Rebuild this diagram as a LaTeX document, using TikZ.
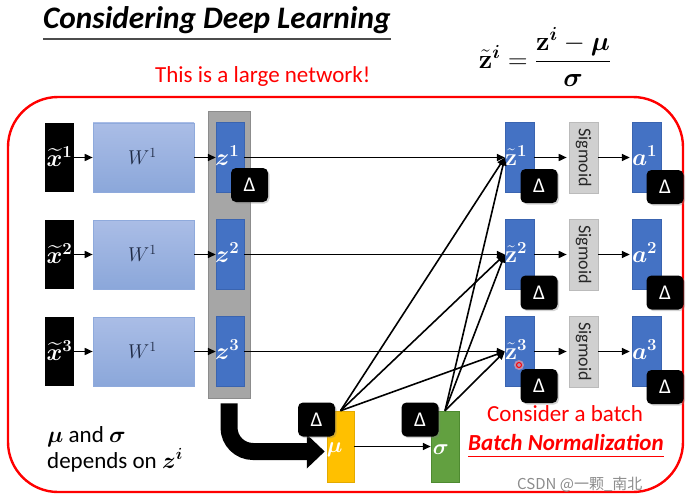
\RequirePackage{fix-cm}
\documentclass[tikz,border=0pt]{standalone}
\usepackage{amsmath,bm}
\usepackage[no-math]{fontspec}
\setmainfont{Carlito}
\newfontfamily\cjk{Noto Sans CJK SC}
\usetikzlibrary{arrows.meta,shadows,calc}
\definecolor{boxblue}{HTML}{4472C4}
\definecolor{boxblueB}{HTML}{3A64B0}
\definecolor{wtop}{HTML}{AABDE6}
\definecolor{wbot}{HTML}{8BA7DA}
\definecolor{wbord}{HTML}{8FAADC}
\definecolor{wtext}{HTML}{1F2A44}
\definecolor{colgray}{HTML}{A6A6A6}
\definecolor{colgrayB}{HTML}{8C8C8C}
\definecolor{siggray}{HTML}{D0D0D0}
\definecolor{siggrayB}{HTML}{BBBBBB}
\definecolor{mugold}{HTML}{FFC000}
\definecolor{mugoldB}{HTML}{E3AA00}
\definecolor{siggreen}{HTML}{62A040}
\definecolor{siggreenB}{HTML}{4E8A30}
\definecolor{slidered}{HTML}{FF0000}
\begin{document}
\begin{tikzpicture}[x=1pt,y=-1pt,
  inbox/.style={fill=black, minimum width=29, minimum height=69, inner sep=0},
  wbox/.style={top color=wtop, bottom color=wbot, draw=wbord, line width=0.6pt, minimum width=101, minimum height=69, inner sep=0},
  bluebox/.style={fill=boxblue, draw=boxblueB, line width=0.4pt, minimum width=28, minimum height=70, inner sep=0},
  sigbox/.style={fill=siggray, draw=siggrayB, line width=0.6pt, minimum width=29, minimum height=71, inner sep=0},
  deltabox/.style={fill=black, rounded corners=5pt, minimum width=37, minimum height=34, inner sep=0,
     text=white, font=\fontsize{21}{21}\selectfont,
     drop shadow={shadow xshift=1.5pt, shadow yshift=-1.5pt, opacity=0.35}},
  wlab/.style={inner sep=0, text=white, font=\fontsize{24}{26}\selectfont},
  conn/.style={line width=1.6pt, -{Triangle[length=8pt,width=7pt]}},
  redtext/.style={text=slidered, inner sep=0, font=\fontsize{23}{26}\selectfont},
]
\useasboundingbox (0,0) rectangle (689,503);
% title
\node[inner sep=0, anchor=base west, font=\fontsize{31.3}{34}\selectfont\bfseries\itshape] (title) at (43,29) {Considering Deep Learning};
\draw[black!70, line width=1.5pt] (title.south west |- 0,39) coordinate (ul1) -- (title.south east |- 0,39) coordinate (ul2);
% formula
\node[inner sep=0, font=\fontsize{27}{30}\selectfont] (formula) at (545,57)
  {$\tilde{\mathbf z}^{\boldsymbol i}=\dfrac{\mathbf z^{\boldsymbol i}-\boldsymbol\mu}{\boldsymbol\sigma}$};
\node[redtext, anchor=base west] (large) at (155,83) {This is a large network!};
% red frame
\draw[slidered, line width=2.4pt, rounded corners=50pt] (8,97) rectangle (683,492);
% gray column
\node[fill=colgray, draw=colgrayB, line width=0.6pt, minimum width=42, minimum height=287, inner sep=0] (col) at (229,254.5) {};
% rows
\foreach \r/\yy in {1/157.5, 2/254.5, 3/351.5}{
  \node[inbox] (x\r) at (59.5,\yy) {};
  \node[wlab] (xl\r) at ($(x\r)+(0,-1)$) {$\widetilde{\boldsymbol x}^{\mathbf{\r}}$};
  \node[wbox] (w\r) at (143.5,\yy) {};
  \node[inner sep=0, text=wtext, font=\fontsize{20}{22}\selectfont] (wl\r) at ($(w\r)+(-1,-1)$) {$W^{1}$};
  \node[bluebox] (z\r) at (230,\yy) {};
  \node[wlab, anchor=west] (zl\r) at ($(z\r.west)+(-1,-2)$) {$\boldsymbol z^{\mathbf{\r}}$};
  \node[bluebox, minimum width=29] (zt\r) at (519.5,\yy) {};
  \node[wlab, anchor=west] (ztl\r) at ($(zt\r.west)+(0,-2)$) {$\tilde{\mathbf z}^{\mathbf{\r}}$};
  \node[sigbox] (s\r) at (583.5,\yy) {};
  \node[rotate=-90, inner sep=0, text=black!85, font=\fontsize{18}{18}\selectfont] (sl\r) at (s\r) {Sigmoid};
  \node[bluebox, minimum width=29] (a\r) at (646.5,\yy) {};
  \node[wlab, anchor=west] (al\r) at ($(a\r.west)+(0,-2)$) {$\boldsymbol a^{\mathbf{\r}}$};
  \draw[conn] (x\r.east) -- (w\r.west);
  \draw[conn] (w\r.east) -- (z\r.west);
  \draw[line width=1.6pt, -{Triangle[length=8pt,width=7pt]}] (z\r.east) -- (zt\r.west);
  \draw[conn] (zt\r.east) -- ($(s\r.west)+(-2,0)$);
  \draw[conn] (s\r.east) -- ($(a\r.west)+(-2,0)$);
}
% mu and sigma
\node[fill=mugold, draw=mugoldB, line width=0.5pt, minimum width=27, minimum height=71, inner sep=0] (mu) at (340.5,446.5) {};
\node[wlab, anchor=west, font=\fontsize{22}{24}\selectfont] (mul) at ($(mu.west)+(0,3)$) {$\boldsymbol\mu$};
\node[fill=siggreen, draw=siggreenB, line width=0.5pt, minimum width=28, minimum height=71, inner sep=0] (sg) at (445,446.5) {};
\node[wlab, anchor=west, font=\fontsize{22}{24}\selectfont] (sgl) at ($(sg.west)+(2,3)$) {$\boldsymbol\sigma$};
\draw[conn] (mu.east) -- (sg.west);
\foreach \r in {1,2,3}{
  \draw[conn] (mu.north) -- (zt\r.west);
  \draw[conn] (sg.north) -- (zt\r.west);
}
% big arrow
\draw[line width=17pt, rounded corners=24pt, -{Triangle[length=18pt,width=33pt]}]
  ($(col.south)+(0,5)$) |- ($(mu.west)+(-2,5)$);
% deltas
\node[deltabox] (dz1) at (249.5,185) {Δ};
\node[deltabox] (dt1) at (539,186) {Δ};
\node[deltabox] (dt2) at (539,292.5) {Δ};
\node[deltabox] (dt3) at (539,386) {Δ};
\node[deltabox] (da1) at (665,187) {Δ};
\node[deltabox] (da2) at (665,292.5) {Δ};
\node[deltabox] (da3) at (665,387) {Δ};
\node[deltabox] (dmu) at (316.5,419.5) {Δ};
\node[deltabox] (dsg) at (420,419.5) {Δ};
% pointer dot
\fill[red!35, opacity=0.6] (519,365) circle (5);
\draw[slidered, line width=1pt] (519,365) circle (2.5);
% texts
\node[inner sep=0, anchor=base west, font=\fontsize{23}{26}\selectfont] (t1) at (47,442) {$\boldsymbol\mu$ and $\boldsymbol\sigma$};
\node[inner sep=0, anchor=base west, font=\fontsize{23}{26}\selectfont] (t2) at (47,468) {depends on $\boldsymbol z^{\boldsymbol i}$};
\node[redtext, anchor=base west] (cb) at (487,421) {Consider a batch};
\node[redtext, anchor=base west, font=\fontsize{23}{26}\selectfont\bfseries\itshape] (bn) at (468,450) {Batch Normalization};
\draw[slidered, line width=1pt] (bn.south west |- 0,456) -- (bn.south east |- 0,456);
\node[inner sep=0, anchor=base west, text=black!45, font=\fontsize{15}{15}\selectfont\cjk] (wm) at (517,489) {CSDN @一颗\_南北};
\end{tikzpicture}
\end{document}
